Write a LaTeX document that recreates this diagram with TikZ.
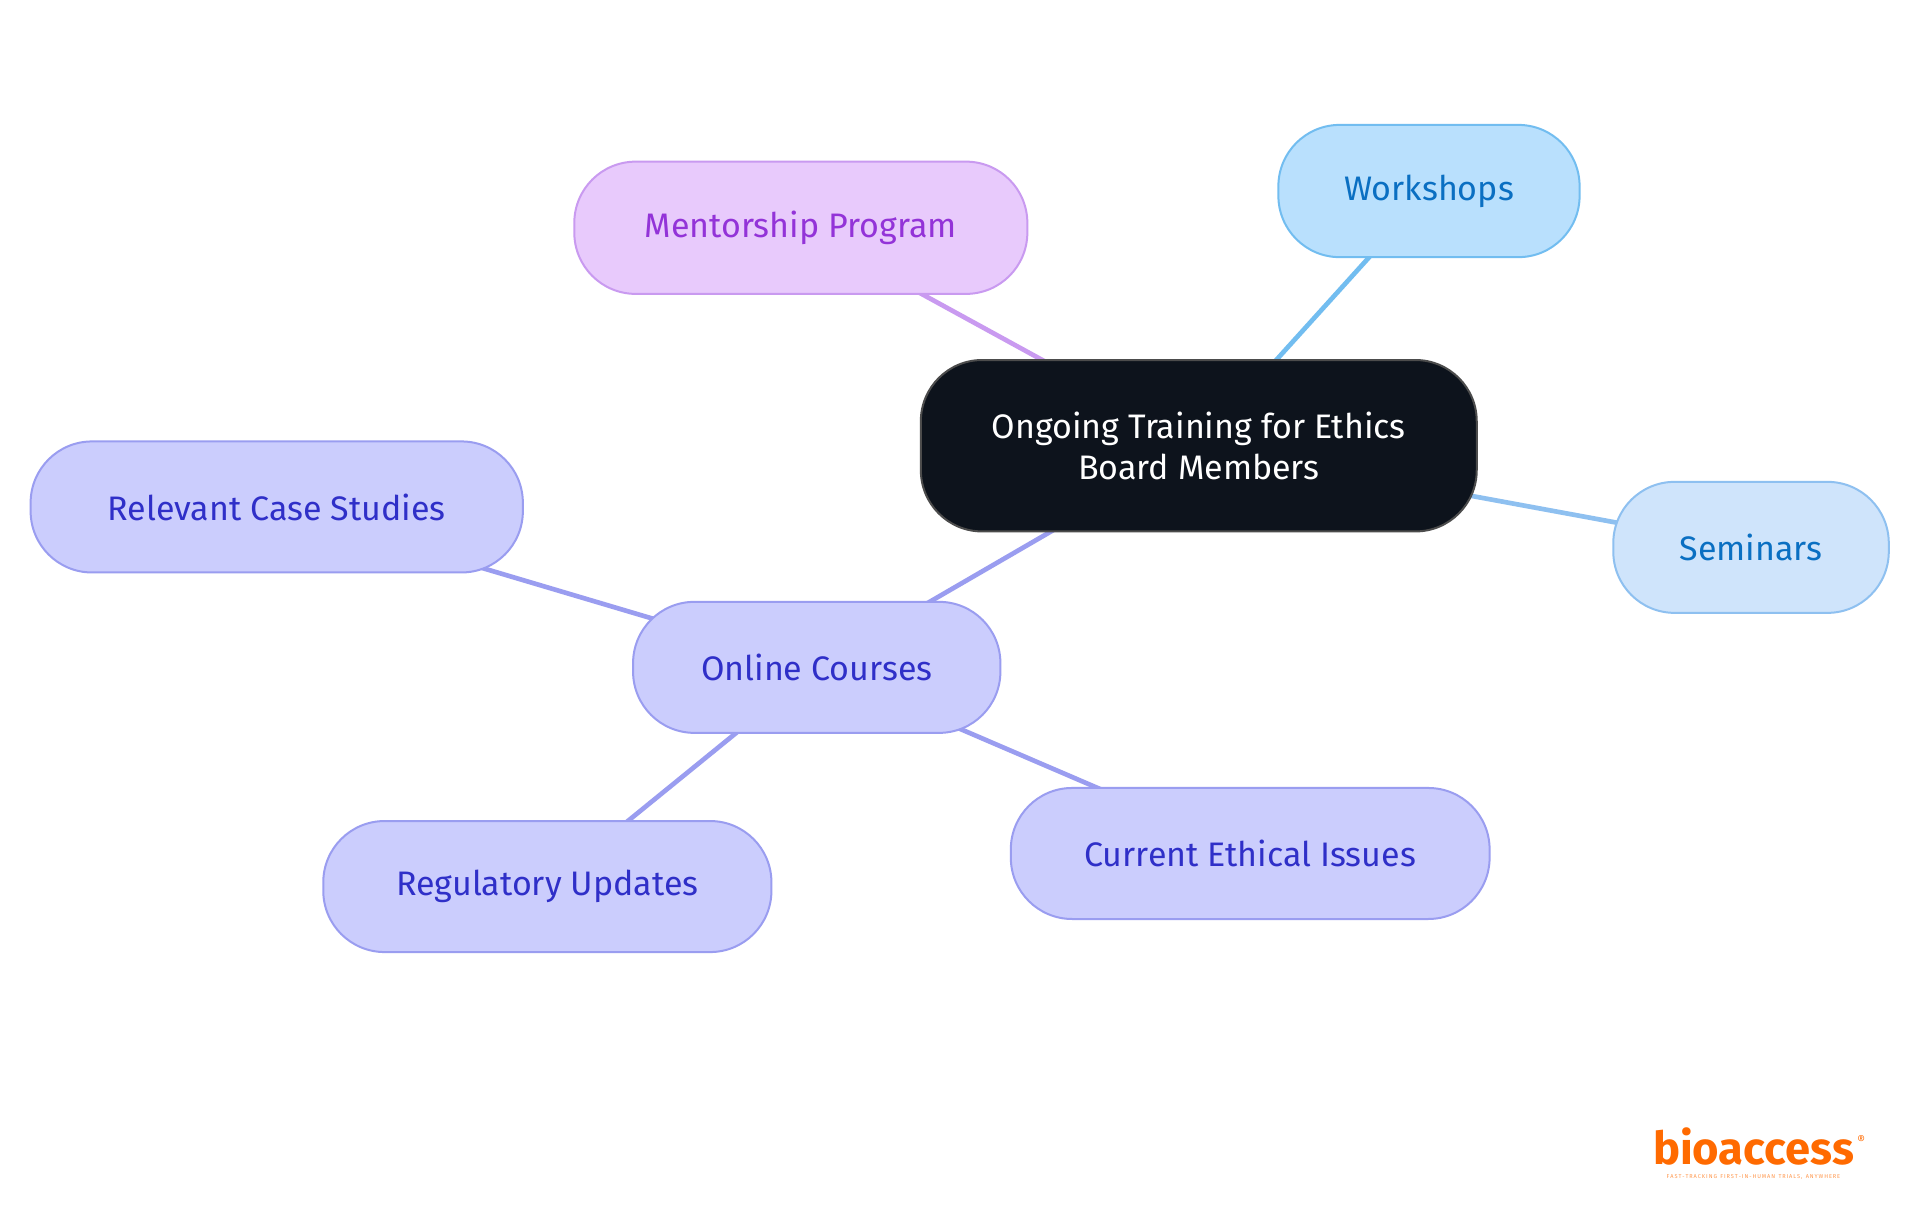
\documentclass[tikz,border=0pt]{standalone}
\usepackage{fontspec}
\setmainfont{Fira Sans}
\pgfdeclarelayer{bg}\pgfsetlayers{bg,main}
\begin{document}
\begin{tikzpicture}[x=0.9184pt,y=-0.9184pt,
 box/.style={draw,line width=1.5pt,rounded corners=46pt,align=center,inner sep=0pt,font=\fontsize{25.5}{31}\selectfont},
 pur/.style={box,fill=purF,draw=purD,text=purT},
 lin/.style={line width=3.5pt}]
\definecolor{purF}{HTML}{CBCDFD}\definecolor{purD}{HTML}{9A9DF0}\definecolor{purT}{HTML}{2F2FC8}
\definecolor{magF}{HTML}{E8CAFC}\definecolor{magD}{HTML}{C99AF0}\definecolor{magT}{HTML}{9333D8}
\definecolor{bluF}{HTML}{B9E0FD}\definecolor{bluD}{HTML}{72BDF0}\definecolor{bluT}{HTML}{0A6FC2}
\definecolor{lbF}{HTML}{CFE4FB}\definecolor{lbD}{HTML}{8EC0F0}
\definecolor{darkF}{HTML}{0D131C}
\definecolor{logo}{HTML}{FF6A00}
\begin{pgfonlayer}{bg}
\useasboundingbox[fill=white] (0,0) rectangle (1568,992);
\end{pgfonlayer}
\node[box,fill=darkF,draw=black!70,text=white,minimum width=454*0.9184pt,minimum height=140*0.9184pt] (c) at (979,364) {Ongoing Training for Ethics\\Board Members};
\node[box,fill=magF,draw=magD,text=magT,minimum width=370*0.9184pt,minimum height=108*0.9184pt] (m) at (654,186) {Mentorship Program};
\node[box,fill=bluF,draw=bluD,text=bluT,minimum width=246*0.9184pt,minimum height=108*0.9184pt] (w) at (1167,156) {Workshops};
\node[box,fill=lbF,draw=lbD,text=bluT,minimum width=225*0.9184pt,minimum height=107*0.9184pt] (s) at (1430,447) {Seminars};
\node[pur,minimum width=402*0.9184pt,minimum height=107*0.9184pt] (r) at (226,414) {Relevant Case Studies};
\node[pur,minimum width=300*0.9184pt,minimum height=107*0.9184pt] (o) at (667,545) {Online Courses};
\node[pur,minimum width=366*0.9184pt,minimum height=107*0.9184pt] (u) at (447,724) {Regulatory Updates};
\node[pur,minimum width=391*0.9184pt,minimum height=107*0.9184pt] (e) at (1021,697) {Current Ethical Issues};
\begin{pgfonlayer}{bg}
\draw[lin,magD] (c.center) -- (m.center);
\draw[lin,bluD] (c.center) -- (w.center);
\draw[lin,lbD] (c.center) -- (s.center);
\draw[lin,purD] (c.center) -- (o.center);
\draw[lin,purD] (o.center) -- (r.center);
\draw[lin,purD] (o.center) -- (u.center);
\draw[lin,purD] (o.center) -- (e.center);
\end{pgfonlayer}
\node[text=logo,font=\fontsize{34}{34}\bfseries\selectfont,inner sep=0pt,anchor=base] (lg) at (1432,951) {bioaccess};
\node[text=logo,font=\fontsize{9}{9}\selectfont,inner sep=0pt] (rg) at (1520,931) {®};
\node[text=logo!70,font=\fontsize{4.2}{5}\selectfont,inner sep=0pt] (tg) at (1432,961) {F\,A\,S\,T\,-\,T\,R\,A\,C\,K\,I\,N\,G\, \,F\,I\,R\,S\,T\,-\,I\,N\,-\,H\,U\,M\,A\,N\, \,T\,R\,I\,A\,L\,S\,,\, \,A\,N\,Y\,W\,H\,E\,R\,E};
\end{tikzpicture}
\end{document}
